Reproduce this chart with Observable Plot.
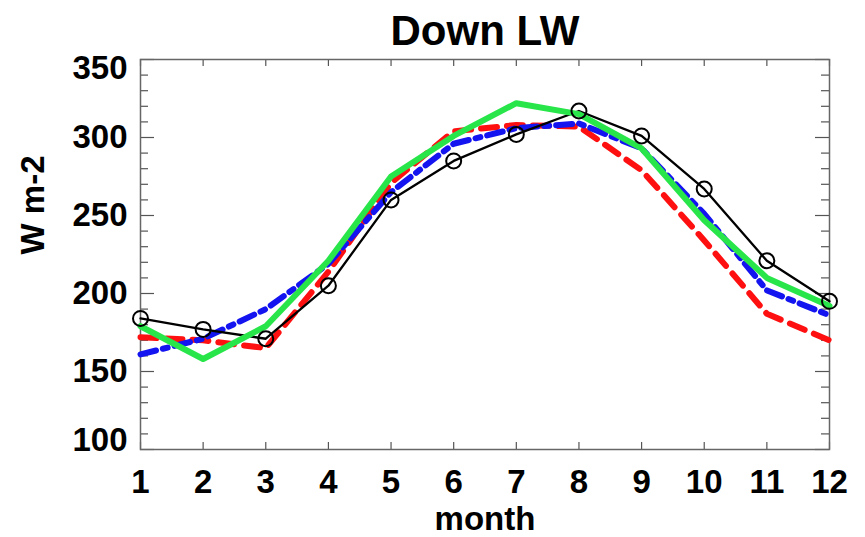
<!DOCTYPE html>
<html><head><meta charset="utf-8">
<script src="https://cdn.jsdelivr.net/npm/d3@7"></script>
<script src="https://cdn.jsdelivr.net/npm/@observablehq/plot@0.6"></script>
<style>html,body{margin:0;padding:0;background:#fff} svg{display:block}</style>
</head><body><div id="chart"></div>
<script>
const title = "Down LW";
const yLabel = "W m-2";
const xLabel = "month";
const months = [1,2,3,4,5,6,7,8,9,10,11,12];
const obsBlack = [184,177,171,205,260,285,302,317,301,267,221,195];
const redDashed = [172,170,165,214,271,304,308,307,279,234,187,170];
const blueDashDot = [161,171,190,219,265,296,306,309,293,251,202,186];
const greenSolid = [179,158,179,221,275,301,322,315,293,247,210,192];
const yMajor = [100,150,200,250,300,350];
const yMinor = [110,120,130,140,160,170,180,190,210,220,230,240,260,270,280,290,310,320,330,340];

const W = 865, H = 537, mL = 140, mR = 36, mT = 59, mB = 88;
const fw = W - mL - mR, fh = H - mT - mB;
const series = (vals) => months.map((m, i) => ({month: m, value: vals[i]}));
const font = "'Liberation Sans', Arial, Helvetica, sans-serif";
const tickColor = "#555";
const txt = {fontSize: 33, fontWeight: "bold", fill: "black", tickSize: 0, label: null};

const chart = Plot.plot({
  width: W, height: H,
  marginLeft: mL, marginRight: mR, marginTop: mT, marginBottom: mB,
  x: {domain: [1, 12]},
  y: {domain: [100, 350]},
  style: {fontFamily: font, background: "white"},
  marks: [
    // ticks (inward)
    Plot.tickX(months, {x: d => d, stroke: tickColor, strokeWidth: 1.2, insetTop: fh - 7}),
    Plot.tickX(months, {x: d => d, stroke: tickColor, strokeWidth: 1.2, insetBottom: fh - 7}),
    Plot.tickY(yMajor, {y: d => d, stroke: tickColor, strokeWidth: 1.2, insetRight: fw - 14}),
    Plot.tickY(yMajor, {y: d => d, stroke: tickColor, strokeWidth: 1.2, insetLeft: fw - 14}),
    Plot.tickY(yMinor, {y: d => d, stroke: tickColor, strokeWidth: 1.2, insetRight: fw - 8}),
    Plot.tickY(yMinor, {y: d => d, stroke: tickColor, strokeWidth: 1.2, insetLeft: fw - 8}),
    Plot.frame({stroke: "#666", strokeWidth: 1.5}),
    // axis labels
    Plot.axisX(months, {...txt, tickPadding: 20, tickFormat: d => String(d)}),
    Plot.axisY([150, 200, 250, 300], {...txt, tickPadding: 13, tickFormat: d => String(d)}),
    Plot.axisY([350], {...txt, tickPadding: 13, dy: 9, tickFormat: d => String(d)}),
    Plot.axisY([100], {...txt, tickPadding: 13, dy: -9, tickFormat: d => String(d)}),
    // data lines
    Plot.line(series(redDashed), {x: "month", y: "value", stroke: "#ff1010", strokeWidth: 6, strokeDasharray: "16,10"}),
    Plot.line(series(blueDashDot), {x: "month", y: "value", stroke: "#1414f0", strokeWidth: 6, strokeDasharray: "16,7,5,7"}),
    Plot.line(series(obsBlack), {x: "month", y: "value", stroke: "black", strokeWidth: 2.3}),
    Plot.line(series(greenSolid), {x: "month", y: "value", stroke: "#28e64a", strokeWidth: 6}),
    Plot.dot(series(obsBlack), {x: "month", y: "value", r: 7.5, stroke: "black", strokeWidth: 2, fill: "none"}),
    // titles
    Plot.text([title], {frameAnchor: "top", dy: -15, lineAnchor: "bottom", fontSize: 42, fontWeight: "bold", fill: "black"}),
    Plot.text([xLabel], {frameAnchor: "bottom", dy: 80, lineAnchor: "bottom", fontSize: 33, fontWeight: "bold", fill: "black"}),
    Plot.text([yLabel], {frameAnchor: "left", dx: -107, rotate: -90, fontSize: 33, fontWeight: "bold", fill: "black"})
  ]
});
document.getElementById("chart").appendChild(chart);
</script>
</body></html>
